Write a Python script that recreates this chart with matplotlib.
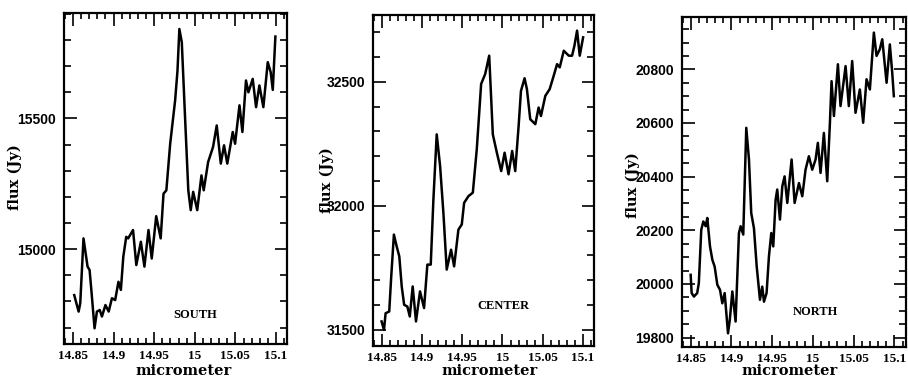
import matplotlib
matplotlib.use("Agg")
import matplotlib.pyplot as plt
from matplotlib.ticker import MultipleLocator

# ---------------- data ----------------
south_x = [14.8516, 14.857, 14.859, 14.863, 14.868, 14.8705, 14.873, 14.8766, 14.8795, 14.883,
           14.8857, 14.89, 14.894, 14.898, 14.902, 14.906, 14.909, 14.912, 14.9156, 14.918,
           14.924, 14.928, 14.9336, 14.938, 14.943, 14.947, 14.9525, 14.958, 14.9615, 14.965,
           14.9697, 14.9758, 14.9787, 14.981, 14.984, 14.988, 14.992, 14.995, 14.998, 15.003,
           15.0082, 15.011, 15.0164, 15.0225, 15.027, 15.032, 15.036, 15.04, 15.0467, 15.0496,
           15.055, 15.0586, 15.063, 15.066, 15.0713, 15.0754, 15.0795, 15.0844, 15.0898, 15.0934,
           15.096, 15.0992]
south_y = [14824, 14761, 14793, 15041, 14933, 14920, 14831, 14697, 14761, 14767,
           14742, 14786, 14761, 14812, 14805, 14875, 14844, 14971, 15047, 15041,
           15073, 14939, 15028, 14933, 15073, 14964, 15126, 15041, 15212, 15225,
           15403, 15569, 15683, 15842, 15791, 15505, 15225, 15149, 15219, 15149,
           15282, 15225, 15333, 15391, 15473, 15327, 15397, 15327, 15448, 15403,
           15550, 15448, 15645, 15600, 15651, 15543, 15626, 15543, 15715, 15677,
           15609, 15813]

center_x = [14.85, 14.853, 14.855, 14.8595, 14.862, 14.8653, 14.8687, 14.872, 14.875, 14.878,
            14.882, 14.885, 14.8886, 14.8927, 14.8977, 14.9027, 14.9068, 14.911, 14.9143, 14.9184,
            14.9226, 14.9267, 14.9308, 14.9362, 14.94, 14.9453, 14.9495, 14.9524, 14.9578, 14.9632,
            14.9681, 14.9735, 14.9785, 14.9835, 14.988, 14.993, 14.9984, 15.0026, 15.0075, 15.012,
            15.0158, 15.02, 15.0229, 15.0274, 15.0303, 15.0344, 15.0407, 15.0448, 15.0477, 15.0531,
            15.0585, 15.0635, 15.0677, 15.071, 15.076, 15.0822, 15.0863, 15.0892, 15.0925, 15.0958,
            15.1]
center_y = [31534, 31500, 31567, 31574, 31716, 31884, 31837, 31796, 31675, 31601,
            31594, 31554, 31675, 31534, 31655, 31588, 31763, 31763, 32026, 32288,
            32160, 31971, 31743, 31823, 31756, 31904, 31925, 32012, 32039, 32053,
            32228, 32491, 32531, 32605, 32288, 32214, 32140, 32214, 32127, 32221,
            32140, 32322, 32463, 32514, 32470, 32349, 32329, 32396, 32362, 32443,
            32470, 32524, 32571, 32558, 32625, 32605, 32605, 32645, 32706, 32605,
            32679]

north_x = [14.85, 14.8512, 14.854, 14.858, 14.86, 14.863, 14.8655, 14.8684, 14.8704, 14.8737,
           14.8766, 14.8794, 14.8827, 14.886, 14.8888, 14.8917, 14.8958, 14.898, 14.9011, 14.9051,
           14.9092, 14.9113, 14.9145, 14.9182, 14.9215, 14.9243, 14.9276, 14.931, 14.935, 14.9378,
           14.9399, 14.9431, 14.946, 14.9489, 14.9513, 14.9542, 14.9562, 14.9595, 14.9624, 14.9652,
           14.9685, 14.9738, 14.9775, 14.9828, 14.9869, 14.9909, 14.995, 14.9991, 15.0032, 15.006,
           15.0093, 15.0134, 15.0175, 15.0208, 15.0228, 15.0257, 15.0306, 15.0338, 15.04, 15.044,
           15.0481, 15.0522, 15.0575, 15.0616, 15.0657, 15.0698, 15.0747, 15.078, 15.082, 15.085,
           15.0903, 15.0943, 15.0972, 15.0992]
north_y = [20034, 19966, 19953, 19966, 20003, 20202, 20233, 20215, 20246, 20140,
           20090, 20065, 19997, 19978, 19928, 19966, 19816, 19866, 19972, 19860,
           20190, 20215, 20184, 20582, 20464, 20264, 20208, 20065, 19941, 19990,
           19934, 19966, 20103, 20190, 20140, 20314, 20352, 20240, 20364, 20401,
           20302, 20464, 20302, 20376, 20327, 20426, 20476, 20426, 20464, 20526,
           20414, 20563, 20383, 20601, 20756, 20626, 20819, 20663, 20812, 20663,
           20831, 20638, 20725, 20601, 20763, 20725, 20937, 20850, 20875, 20912,
           20750, 20893, 20788, 20700]

panel_names = ["SOUTH", "CENTER", "NORTH"]
xticks = [14.85, 14.9, 14.95, 15.0, 15.05, 15.1]
xtick_labels = ["14.85", "14.9", "14.95", "15", "15.05", "15.1"]
x_label = "micrometer"
y_label = "flux (Jy)"

# ---------------- layout ----------------
W, H = 908, 380
fig = plt.figure(figsize=(W / 100, H / 100), dpi=100)
fig.patch.set_facecolor("white")

# pixel boxes: left, right, top, bottom
boxes = [(64, 287, 13.3, 344), (372.7, 594, 15, 346), (681.7, 905.5, 17.3, 347)]
ylims = [(14637, 15902), (31435, 32769), (19765, 20994)]
ymajor = [500, 500, 200]
yminor = [100, 100, 50]
series = [(south_x, south_y), (center_x, center_y), (north_x, north_y)]
name_pos = [(195.5, 315), (503.3, 306), (815.3, 311.7)]
ylab_x = [15, 327, 633]
ylab_y = [177, 180, 185]
xlab_x = [184, 490, 790]

serif_bold = dict(family="DejaVu Serif", weight="bold")

for i in range(3):
    l, r, t, b = boxes[i]
    ax = fig.add_axes([l / W, (H - b) / H, (r - l) / W, (b - t) / H])
    x, y = series[i]
    ax.plot(x, y, color="black", lw=1.8, solid_joinstyle="round")
    ax.set_xlim(14.839, 15.1135)
    ax.set_ylim(*ylims[i])
    ax.set_xticks(xticks, labels=xtick_labels)
    ax.xaxis.set_minor_locator(MultipleLocator(0.01))
    ax.yaxis.set_major_locator(MultipleLocator(ymajor[i]))
    ax.yaxis.set_minor_locator(MultipleLocator(yminor[i]))
    ax.tick_params(which="both", direction="in", top=True, right=True, width=1.2, color="black")
    ax.tick_params(axis="y", which="major", length=9, pad=5.5)
    ax.tick_params(axis="y", which="minor", length=5)
    ax.tick_params(axis="x", which="major", length=9, pad=4)
    ax.tick_params(axis="x", which="minor", length=4.5)
    for lab in ax.get_xticklabels():
        lab.set_fontfamily("Liberation Serif")
        lab.set_fontweight("bold")
        lab.set_fontsize(9.5)
    for lab in ax.get_yticklabels():
        lab.set_fontfamily("Liberation Sans")
        lab.set_fontweight("bold")
        lab.set_fontsize(10)
    for sp in ax.spines.values():
        sp.set_linewidth(1.6)
    # labels
    fig.text(xlab_x[i] / W, (H - 375) / H, x_label, ha="center", va="baseline",
             fontsize=10.5, **serif_bold)
    fig.text(ylab_x[i] / W, (H - ylab_y[i]) / H, y_label, ha="center", va="center",
             rotation=90, fontsize=10.5, **serif_bold)
    fig.text(name_pos[i][0] / W, (H - name_pos[i][1]) / H, panel_names[i],
             ha="center", va="center", fontsize=9, family="Liberation Serif", weight="bold")

fig.savefig("out.png", dpi=100)
